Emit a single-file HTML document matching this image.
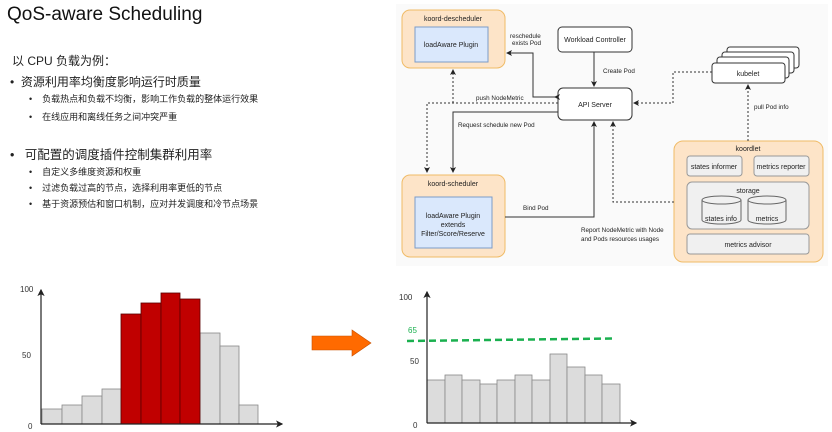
<!DOCTYPE html>
<html><head><meta charset="utf-8"><style>
html,body{margin:0;padding:0;background:#fff;}
body{width:832px;height:432px;position:relative;overflow:hidden;font-family:"Liberation Sans","Noto Sans CJK SC",sans-serif;color:#222;}
.t{position:absolute;white-space:nowrap;}
</style></head><body>
<div class="t" style="left:7px;top:4px;font-size:19px;color:#111;">QoS-aware Scheduling</div>
<div class="t" style="left:12px;top:52px;font-size:12px;">以 CPU 负载为例：</div>
<div class="t" style="left:10px;top:73px;font-size:12px;">•&nbsp;&nbsp;资源利用率均衡度影响运行时质量</div>
<div class="t" style="left:29px;top:92px;font-size:9px;">•&nbsp;&nbsp;&nbsp;&nbsp;负载热点和负载不均衡，影响工作负载的整体运行效果</div>
<div class="t" style="left:29px;top:110px;font-size:9px;">•&nbsp;&nbsp;&nbsp;&nbsp;在线应用和离线任务之间冲突严重</div>
<div class="t" style="left:10px;top:144px;font-size:12.5px;">•&nbsp;&nbsp;&nbsp;可配置的调度插件控制集群利用率</div>
<div class="t" style="left:29px;top:165px;font-size:9px;">•&nbsp;&nbsp;&nbsp;&nbsp;自定义多维度资源和权重</div>
<div class="t" style="left:29px;top:181px;font-size:9px;">•&nbsp;&nbsp;&nbsp;&nbsp;过滤负载过高的节点，选择利用率更低的节点</div>
<div class="t" style="left:29px;top:197px;font-size:9px;">•&nbsp;&nbsp;&nbsp;&nbsp;基于资源预估和窗口机制，应对并发调度和冷节点场景</div>

<svg width="832" height="432" style="position:absolute;left:0;top:0" font-family="Liberation Sans, sans-serif">
<defs>
<marker id="a" markerWidth="6" markerHeight="6" refX="5" refY="3" orient="auto"><path d="M0,0 L6,3 L0,6 L1.5,3z" fill="#222"/></marker>
</defs>
<rect x="396" y="4" width="432" height="262" fill="#fafafa"/>
<g font-size="7" fill="#222" text-anchor="middle">
<rect x="402" y="10" width="103" height="58" rx="8" fill="#fde4c8" stroke="#f0bb66"/>
<text x="453" y="21">koord-descheduler</text>
<rect x="415" y="27" width="73" height="35" fill="#dae8fc" stroke="#7c9bc8"/>
<text x="451" y="47">loadAware Plugin</text>
<rect x="558" y="27" width="74" height="25" rx="4" fill="#fff" stroke="#333"/>
<text x="595" y="42">Workload Controller</text>
<rect x="558" y="88" width="74" height="32" rx="5" fill="#fff" stroke="#333"/>
<text x="595" y="107">API Server</text>
<rect x="727" y="47" width="72" height="21" rx="3" fill="#fff" stroke="#333"/>
<rect x="722" y="52" width="72" height="21" rx="3" fill="#fff" stroke="#333"/>
<rect x="717" y="57" width="72" height="21" rx="3" fill="#fff" stroke="#333"/>
<rect x="712" y="63" width="73" height="20" rx="3" fill="#fff" stroke="#333"/>
<text x="748" y="76">kubelet</text>
<rect x="402" y="175" width="103" height="82" rx="8" fill="#fde4c8" stroke="#f0bb66"/>
<text x="453" y="186">koord-scheduler</text>
<rect x="415" y="197" width="77" height="51" fill="#dae8fc" stroke="#7c9bc8"/>
<text x="453" y="218">loadAware Plugin</text>
<text x="453" y="227">extends</text>
<text x="453" y="236">Filter/Score/Reserve</text>
<rect x="674" y="141" width="149" height="121" rx="9" fill="#fde4c8" stroke="#f0bb66"/>
<text x="748" y="151">koordlet</text>
<rect x="687" y="156" width="55" height="20" rx="3" fill="#f0f0f0" stroke="#999"/>
<text x="714" y="169">states informer</text>
<rect x="754" y="156" width="55" height="20" rx="3" fill="#f0f0f0" stroke="#999"/>
<text x="781" y="169">metrics reporter</text>
<rect x="687" y="182" width="122" height="47" rx="5" fill="#f0f0f0" stroke="#999"/>
<text x="748" y="193">storage</text>
<path d="M702,200 v20 a19.5,4 0 0 0 39,0 v-20" fill="#f0f0f0" stroke="#666"/>
<ellipse cx="721.5" cy="200" rx="19.5" ry="4" fill="#f0f0f0" stroke="#666"/>
<text x="721" y="221">states info</text>
<path d="M748,200 v20 a19,4 0 0 0 38,0 v-20" fill="#f0f0f0" stroke="#666"/>
<ellipse cx="767" cy="200" rx="19" ry="4" fill="#f0f0f0" stroke="#666"/>
<text x="767" y="221">metrics</text>
<rect x="687" y="234" width="122" height="20" rx="3" fill="#f0f0f0" stroke="#999"/>
<text x="748" y="247">metrics advisor</text>
</g>
<g fill="none" stroke="#333" stroke-width="1">
<path d="M555,97 H533 V53 H507" marker-end="url(#a)" marker-start="url(#a)"/>
<path d="M594,52 V86" marker-end="url(#a)"/>
<path d="M558,112 H453 V172" marker-end="url(#a)"/>
<path d="M505,217 H594 V122" marker-end="url(#a)"/>
<g stroke-dasharray="2,2">
<path d="M558,103 H427 V172" marker-end="url(#a)"/>
<path d="M453,103 V70" marker-end="url(#a)"/>
<path d="M674,202 H613 V122" marker-end="url(#a)"/>
<path d="M712,72 H673 V103 H634" marker-end="url(#a)"/>
<path d="M748,141 V85" marker-end="url(#a)"/>
</g>
</g>
<g font-size="6.3" fill="#222">
<text x="510" y="38">reschedule</text><text x="512" y="45">exists Pod</text>
<text x="603" y="73">Create Pod</text>
<text x="476" y="100">push NodeMetric</text>
<text x="458" y="127">Request schedule new Pod</text>
<text x="523" y="210">Bind Pod</text>
<text x="581" y="232">Report NodeMetric with Node</text>
<text x="581" y="241">and Pods resources usages</text>
<text x="754" y="109">pull Pod info</text>
</g>

<g font-size="8" fill="#333">
<text x="20" y="292">100</text><text x="22" y="358">50</text><text x="28" y="429">0</text>
<text x="399" y="300">100</text><text x="410" y="364">50</text><text x="413" y="428">0</text>
<text x="408" y="333" fill="#1ab04f">65</text>
</g>
<g stroke="#888" stroke-width="0.8" fill="#dcdcdc">
<rect x="42" y="409" width="20" height="15"/>
<rect x="62" y="405" width="20" height="19"/>
<rect x="82" y="396" width="20" height="28"/>
<rect x="102" y="389" width="19" height="35"/>
<rect x="200" y="333" width="20" height="91"/>
<rect x="220" y="346" width="19" height="78"/>
<rect x="239" y="405" width="19" height="19"/>
</g>
<g stroke="#5a0000" stroke-width="0.8" fill="#c00000">
<rect x="121" y="314" width="20" height="110"/>
<rect x="141" y="303" width="20" height="121"/>
<rect x="161" y="293" width="19" height="131"/>
<rect x="180" y="299" width="20" height="125"/>
</g>
<g stroke="#222" stroke-width="1.2" fill="none">
<path d="M41,424 V290" marker-end="url(#a)"/>
<path d="M41,424 H282" marker-end="url(#a)"/>
</g>
<path d="M312,336 H352 V330 L371,343 L352,356 V350 H312 Z" fill="#ff6a00" stroke="#c85000" stroke-width="0.6"/>
<g stroke="#888" stroke-width="0.8" fill="#dcdcdc">
<rect x="427" y="380" width="18" height="43"/>
<rect x="445" y="375" width="17" height="48"/>
<rect x="462" y="380" width="18" height="43"/>
<rect x="480" y="384" width="17" height="39"/>
<rect x="497" y="380" width="18" height="43"/>
<rect x="515" y="375" width="17" height="48"/>
<rect x="532" y="380" width="18" height="43"/>
<rect x="550" y="354" width="17" height="69"/>
<rect x="567" y="367" width="18" height="56"/>
<rect x="585" y="375" width="17" height="48"/>
<rect x="602" y="384" width="18" height="39"/>
</g>
<g stroke="#222" stroke-width="1.2" fill="none">
<path d="M427,423 V292" marker-end="url(#a)"/>
<path d="M427,423 H636" marker-end="url(#a)"/>
</g>
<path d="M407,341 L612,338.5" stroke="#1ab04f" stroke-width="2.5" stroke-dasharray="7,4" fill="none"/>
</svg>
</body></html>
